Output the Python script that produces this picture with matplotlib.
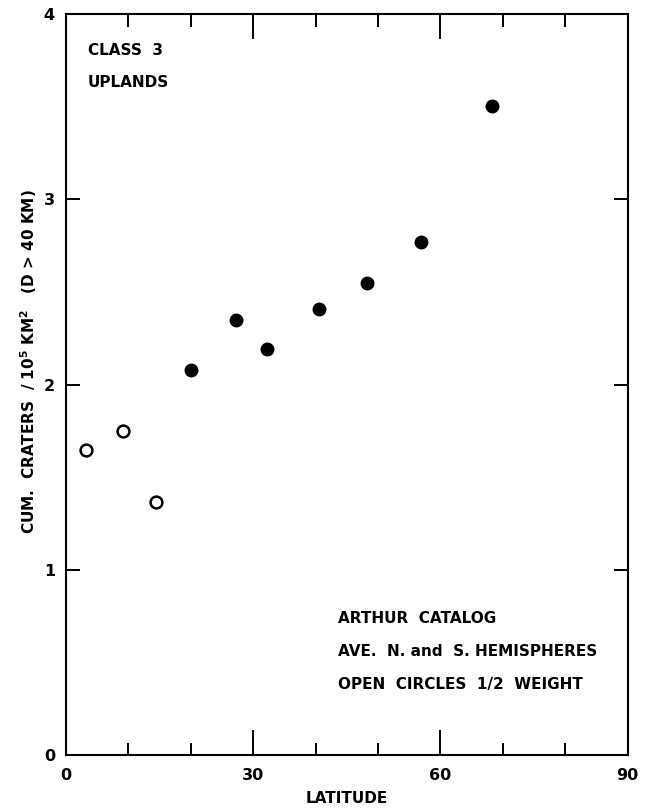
import matplotlib
matplotlib.use('Agg')
import matplotlib.pyplot as plt
import numpy as np

# latitude (deg) and cumulative craters per 10^5 km^2
open_lat = [3.2, 9.1, 14.5]
open_val = [1.65, 1.75, 1.365]
full_lat = [20.0, 27.2, 32.2, 40.5, 48.2, 56.9, 68.2]
full_val = [2.08, 2.35, 2.19, 2.41, 2.55, 2.77, 3.50]

x_major = [0, 30, 60, 90]
x_minor = [10, 20, 40, 50, 70, 80]
y_major = [0, 1, 2, 3, 4]
y_labels = ['0', '1', '2', '3', '4']

FONT = {'family': 'DejaVu Sans', 'weight': 'bold'}

fig = plt.figure(figsize=(6.55, 8.08), dpi=100)
ax = fig.add_axes([0.1008, 0.065, 0.8573, 0.918])

ax.plot(full_lat, full_val, 'o', color='black', markersize=9)
ax.plot(open_lat, open_val, 'o', markerfacecolor='white', markeredgecolor='black',
        markersize=8.5, markeredgewidth=1.8)

ax.set_xlim(0, 90)
ax.set_ylim(0, 4)

for s in ax.spines.values():
    s.set_linewidth(1.5)

ax.set_xticks(x_major)
ax.set_xticks(x_minor, minor=True)
ax.set_xticklabels([str(v) for v in x_major], fontdict=FONT, fontsize=11.5)
ax.set_yticks(y_major)
ax.set_yticklabels(y_labels, fontdict=FONT, fontsize=11.5)

ax.tick_params(axis='x', which='major', direction='in', length=18, width=1.4,
               top=True, bottom=True, pad=9)
ax.tick_params(axis='x', which='minor', direction='in', length=9, width=1.4,
               top=True, bottom=True)
ax.tick_params(axis='y', which='major', direction='in', length=10, width=1.4,
               left=True, right=True, pad=8)

ax.set_xlabel('LATITUDE', fontdict=FONT, fontsize=11, labelpad=6)
fig.text(0.043, 0.552, r'CUM.  CRATERS  / $\mathbf{10^5}$ KM$\mathbf{^2}$   (D > 40 KM)',
         rotation=90, ha='center', va='center', fontdict=FONT, fontsize=11)

ax.text(3.5, 3.80, 'CLASS  3', ha='left', va='center', fontdict=FONT, fontsize=11)
ax.text(3.5, 3.63, 'UPLANDS', ha='left', va='center', fontdict=FONT, fontsize=11)

ax.text(43.6, 0.736, 'ARTHUR  CATALOG', ha='left', va='center', fontdict=FONT, fontsize=11)
ax.text(43.6, 0.563, 'AVE.  N. and  S. HEMISPHERES', ha='left', va='center', fontdict=FONT, fontsize=11)
ax.text(43.6, 0.385, 'OPEN  CIRCLES  1/2  WEIGHT', ha='left', va='center', fontdict=FONT, fontsize=11)

fig.savefig('out.png', dpi=100)
